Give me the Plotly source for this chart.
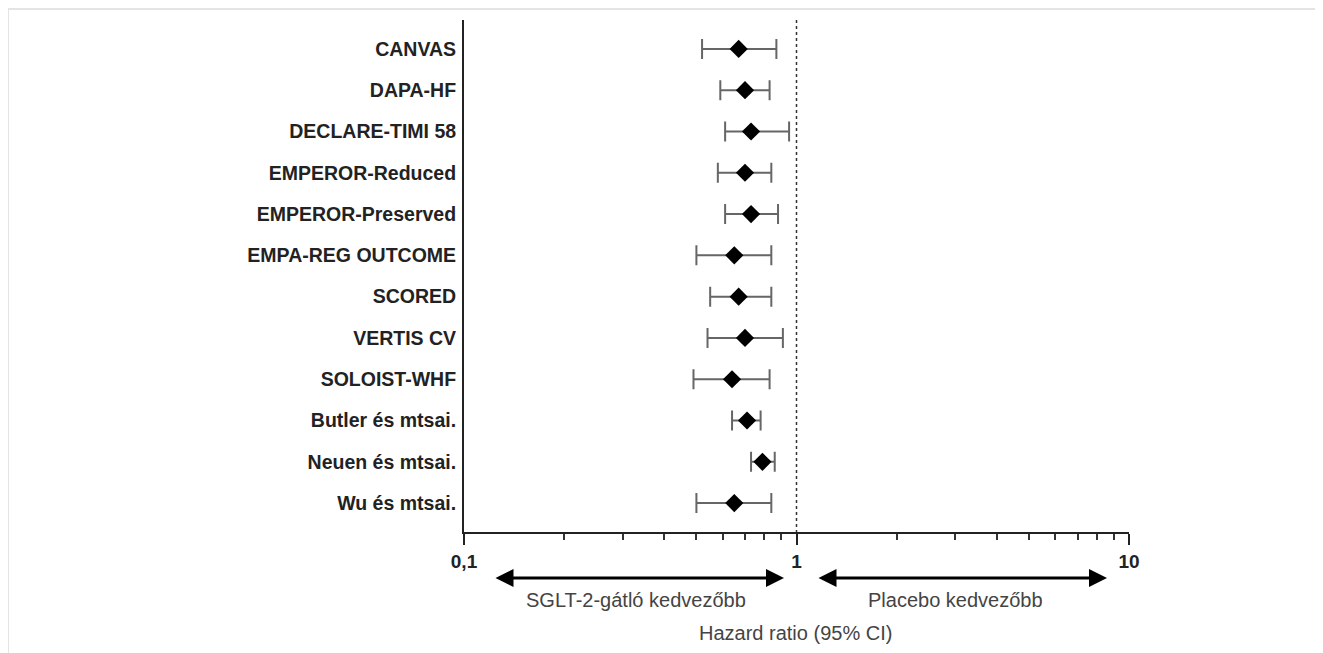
import plotly.graph_objects as go

studies = ["CANVAS", "DAPA-HF", "DECLARE-TIMI 58", "EMPEROR-Reduced", "EMPEROR-Preserved",
           "EMPA-REG OUTCOME", "SCORED", "VERTIS CV", "SOLOIST-WHF", "Butler és mtsai.",
           "Neuen és mtsai.", "Wu és mtsai."]
hr = [0.67, 0.70, 0.73, 0.70, 0.73, 0.65, 0.67, 0.70, 0.64, 0.71, 0.79, 0.65]
ci_low = [0.52, 0.59, 0.61, 0.58, 0.61, 0.50, 0.55, 0.54, 0.49, 0.64, 0.73, 0.50]
ci_high = [0.87, 0.83, 0.95, 0.84, 0.88, 0.84, 0.84, 0.91, 0.83, 0.78, 0.86, 0.84]
rows = list(range(1, len(studies) + 1))

ref_line_x = [1, 1]
ref_line_y = [0.3, 12.7]

left_label = "SGLT-2-gátló kedvezőbb"
right_label = "Placebo kedvezőbb"
x_title = "Hazard ratio (95% CI)"

W, H = 1315, 645
L, T, R, B = 456, 12, 194, 121
PW, PH = W - L - R, H - T - B


def px(xf):
    return (xf - L) / PW


def py(yf):
    return (H - B - yf) / PH


fig = go.Figure()

fig.add_trace(go.Scatter(
    x=ref_line_x, y=ref_line_y, mode="lines",
    line=dict(color="#333333", width=1.5, dash="dot"),
    hoverinfo="skip", showlegend=False))

fig.add_trace(go.Scatter(
    x=hr, y=rows, mode="markers",
    marker=dict(symbol="diamond", size=14, color="black"),
    error_x=dict(type="data", symmetric=False,
                 array=[h - m for h, m in zip(ci_high, hr)],
                 arrayminus=[m - l for m, l in zip(hr, ci_low)],
                 color="#666666", thickness=2, width=10),
    showlegend=False))

fig.update_layout(
    width=W, height=H,
    margin=dict(l=L, r=R, t=T, b=B),
    plot_bgcolor="white", paper_bgcolor="white",
    separators=",.",
    font=dict(family="Liberation Sans, Arial, sans-serif", color="#222222"),
    xaxis=dict(type="log", range=[-1, 1], dtick=1,
               showline=True, linecolor="#222222", linewidth=2,
               ticks="outside", ticklen=11, tickwidth=2, tickcolor="#222222",
               tickfont=dict(size=19, color="#222222", family="Liberation Sans, Arial, sans-serif", weight="bold"),
               minor=dict(dtick="D1", ticks="outside", ticklen=6, tickwidth=1.5, tickcolor="#333333"),
               showgrid=False, zeroline=False),
    yaxis=dict(range=[12.7, 0.3], tickvals=rows, ticktext=studies,
               showline=True, linecolor="#222222", linewidth=2,
               ticks="outside", ticklen=2, tickcolor="rgba(0,0,0,0)",
               tickfont=dict(size=19.5, color="#222222", family="Liberation Sans, Arial, sans-serif", weight="bold"),
               showgrid=False, zeroline=False),
)

# arrows (screen coords of reference minus 8px page offset)
arrow_y = py(570)
for head_xf in [776, 1099]:
    fig.add_annotation(x=px(head_xf), y=arrow_y, xref="paper", yref="paper",
                       ax=-290, ay=0, axref="pixel", ayref="pixel",
                       text="", showarrow=True, arrowhead=2, arrowside="end+start",
                       arrowsize=1.2, arrowwidth=3, arrowcolor="black", standoff=0, startstandoff=0)

fig.add_annotation(x=px(628), y=py(592), xref="paper", yref="paper", xanchor="center", yanchor="middle",
                   text=left_label, showarrow=False, font=dict(size=20, color="#444444"))
fig.add_annotation(x=px(947), y=py(592), xref="paper", yref="paper", xanchor="center", yanchor="middle",
                   text=right_label, showarrow=False, font=dict(size=20, color="#444444"))
fig.add_annotation(x=px(787), y=py(625), xref="paper", yref="paper", xanchor="center", yanchor="middle",
                   text=x_title, showarrow=False, font=dict(size=20, color="#444444"))

# light frame at top and left
fig.add_shape(type="line", xref="paper", yref="paper",
              x0=px(0), x1=px(W), y0=py(1), y1=py(1),
              line=dict(color="#e4e4e4", width=2))
fig.add_shape(type="line", xref="paper", yref="paper",
              x0=px(0), x1=px(0), y0=py(1), y1=py(H),
              line=dict(color="#e4e4e4", width=2))

fig.write_html("out.html")
